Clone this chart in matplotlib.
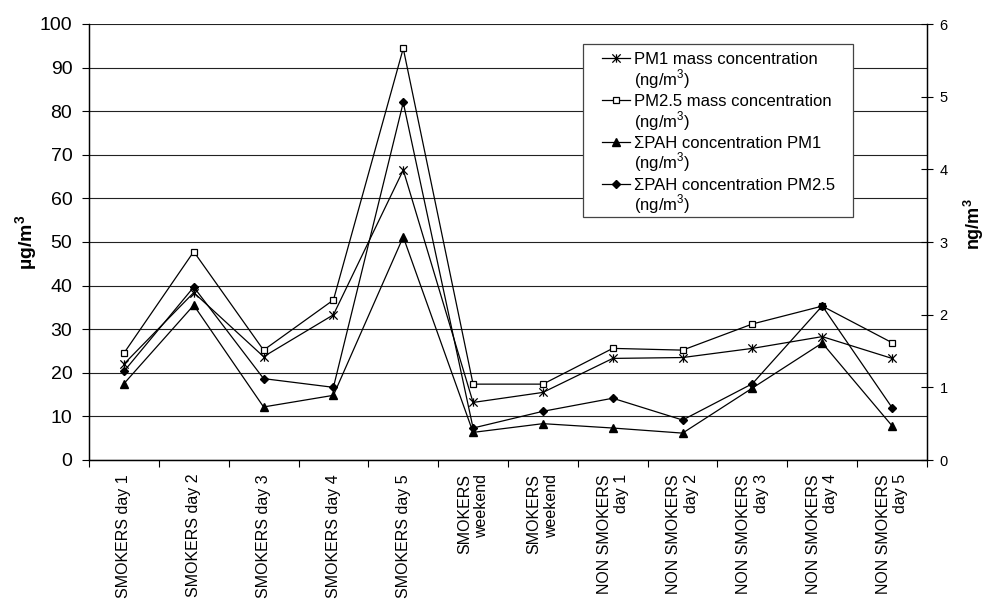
import matplotlib
matplotlib.use("Agg")
import matplotlib.pyplot as plt
import numpy as np
from matplotlib.path import Path
from matplotlib.patches import Rectangle
from matplotlib.ticker import FixedLocator
from matplotlib.legend_handler import HandlerLine2D

plt.rcParams['font.family'] = ['Liberation Sans', 'DejaVu Sans']
plt.rcParams['mathtext.fontset'] = 'custom'
plt.rcParams['mathtext.rm'] = 'Liberation Sans'
plt.rcParams['mathtext.bf'] = 'Liberation Sans:bold'

# DATA
categories = ["SMOKERS day 1", "SMOKERS day 2", "SMOKERS day 3", "SMOKERS day 4",
              "SMOKERS day 5", "SMOKERS\nweekend", "SMOKERS\nweekend",
              "NON SMOKERS\nday 1", "NON SMOKERS\nday 2", "NON SMOKERS\nday 3",
              "NON SMOKERS\nday 4", "NON SMOKERS\nday 5"]
pm1_mass = [22.0, 38.4, 23.7, 33.3, 66.5, 13.2, 15.5, 23.3, 23.5, 25.6, 28.3, 23.3]
pm25_mass = [24.5, 47.8, 25.2, 36.7, 94.4, 17.4, 17.4, 25.6, 25.2, 31.2, 35.3, 26.9]
pah_pm1 = [1.05, 2.13, 0.73, 0.89, 3.07, 0.38, 0.50, 0.44, 0.37, 0.99, 1.61, 0.47]
pah_pm25 = [1.22, 2.38, 1.12, 1.00, 4.92, 0.44, 0.67, 0.85, 0.55, 1.05, 2.12, 0.72]

left_ticks = np.arange(0, 101, 10)
right_ticks = np.arange(0, 7, 1)

# excel-like star marker (x with vertical bar)
star = Path([(-1, -1), (1, 1), (-1, 1), (1, -1), (0, -1), (0, 1)],
            [Path.MOVETO, Path.LINETO, Path.MOVETO, Path.LINETO, Path.MOVETO, Path.LINETO])

# legend key on the first text line, not centred on the two-line entry
class TopLineHandler(HandlerLine2D):
    def create_artists(self, legend, orig_handle, xdescent, ydescent,
                       width, height, fontsize, trans):
        arts = super().create_artists(legend, orig_handle, xdescent, ydescent,
                                      width, height, fontsize, trans)
        for a in arts:
            a.set_ydata(np.asarray(a.get_ydata()) + 0.8*fontsize)
        return arts

#====================================================#
fig = plt.figure(figsize=(9.85, 6.0), dpi=100)
ax = fig.add_axes([89/985, 1-460/600, (927-89)/985, (460-24)/600])
ax2 = ax.twinx()

x = np.arange(len(categories))
lw = 0.9
l1, = ax.plot(x, pm1_mass, color='black', lw=lw, marker=star, ms=6, mew=0.9,
              label='PM1 mass concentration\n(ng/m$^{3}$)')
l2, = ax.plot(x, pm25_mass, color='black', lw=lw, marker='s', ms=5, mfc='white',
              mec='black', mew=0.9, label='PM2.5 mass concentration\n(ng/m$^{3}$)')
l3, = ax2.plot(x, pah_pm1, color='black', lw=lw, marker='^', ms=5.4,
               label='\u03a3PAH concentration PM1\n(ng/m$^{3}$)')
l4, = ax2.plot(x, pah_pm25, color='black', lw=lw, marker='D', ms=4.1,
               label='\u03a3PAH concentration PM2.5\n(ng/m$^{3}$)')

# left axis
ax.set_xlim(-0.5, len(categories) - 0.5)
ax.set_ylim(0, 100)
ax.set_yticks(left_ticks)
ax.tick_params(axis='y', labelsize=14, length=5, width=0.8, pad=7)
ax.yaxis.grid(True, color='#222222', lw=0.8)
ax.set_axisbelow(True)
ax.set_ylabel('\u00b5g/m$^{\\mathbf{3}}$', fontsize=14, fontweight='bold')
ax.yaxis.set_label_coords(-0.058, 0.5)

# x axis: labels at centers, ticks at boundaries
ax.set_xticks(x)
ax.set_xticklabels(categories, rotation=90, va='top', ha='center',
                   multialignment='right', fontsize=11.5)
ax.tick_params(axis='x', which='major', length=0, pad=10)
ax.xaxis.set_minor_locator(FixedLocator(np.arange(-0.5, len(categories), 1)))
ax.tick_params(axis='x', which='minor', length=5, width=0.8)

# right axis
ax2.set_ylim(0, 6)
ax2.set_yticks(right_ticks)
ax2.tick_params(axis='y', labelsize=10.5, direction='inout', length=8, width=0.8, pad=5)
ax2.set_ylabel('ng/m$^{\\mathbf{3}}$', fontsize=13, fontweight='bold')
ax2.yaxis.set_label_coords(1.042, 0.54)

for a in (ax, ax2):
    a.spines['top'].set_visible(False)
    for s in ('left', 'right', 'bottom'):
        a.spines[s].set_linewidth(0.9)

# legend (frame drawn separately, excel-style padding)
leg = ax2.legend(handles=[l1, l2, l3, l4], loc='upper left',
                 bbox_to_anchor=(602/985, 1-52/600), bbox_transform=fig.transFigure,
                 borderaxespad=0, borderpad=0, fontsize=12, frameon=False,
                 handlelength=1.7, handletextpad=0.25, labelspacing=0.2,
                 handler_map={l: TopLineHandler() for l in (l1, l2, l3, l4)})
for t in leg.get_texts():
    t.set_linespacing(1.0)
leg.set_zorder(6)
fig.canvas.draw()
bb = leg.get_window_extent()
box = Rectangle((bb.x0 - 19, bb.y0 - 1), bb.width + 36, bb.height + 9,
                transform=None, facecolor='white', edgecolor='#444444',
                lw=0.9, zorder=5, clip_on=False)
ax2.add_patch(box)

plt.savefig('out.png', dpi=100)
